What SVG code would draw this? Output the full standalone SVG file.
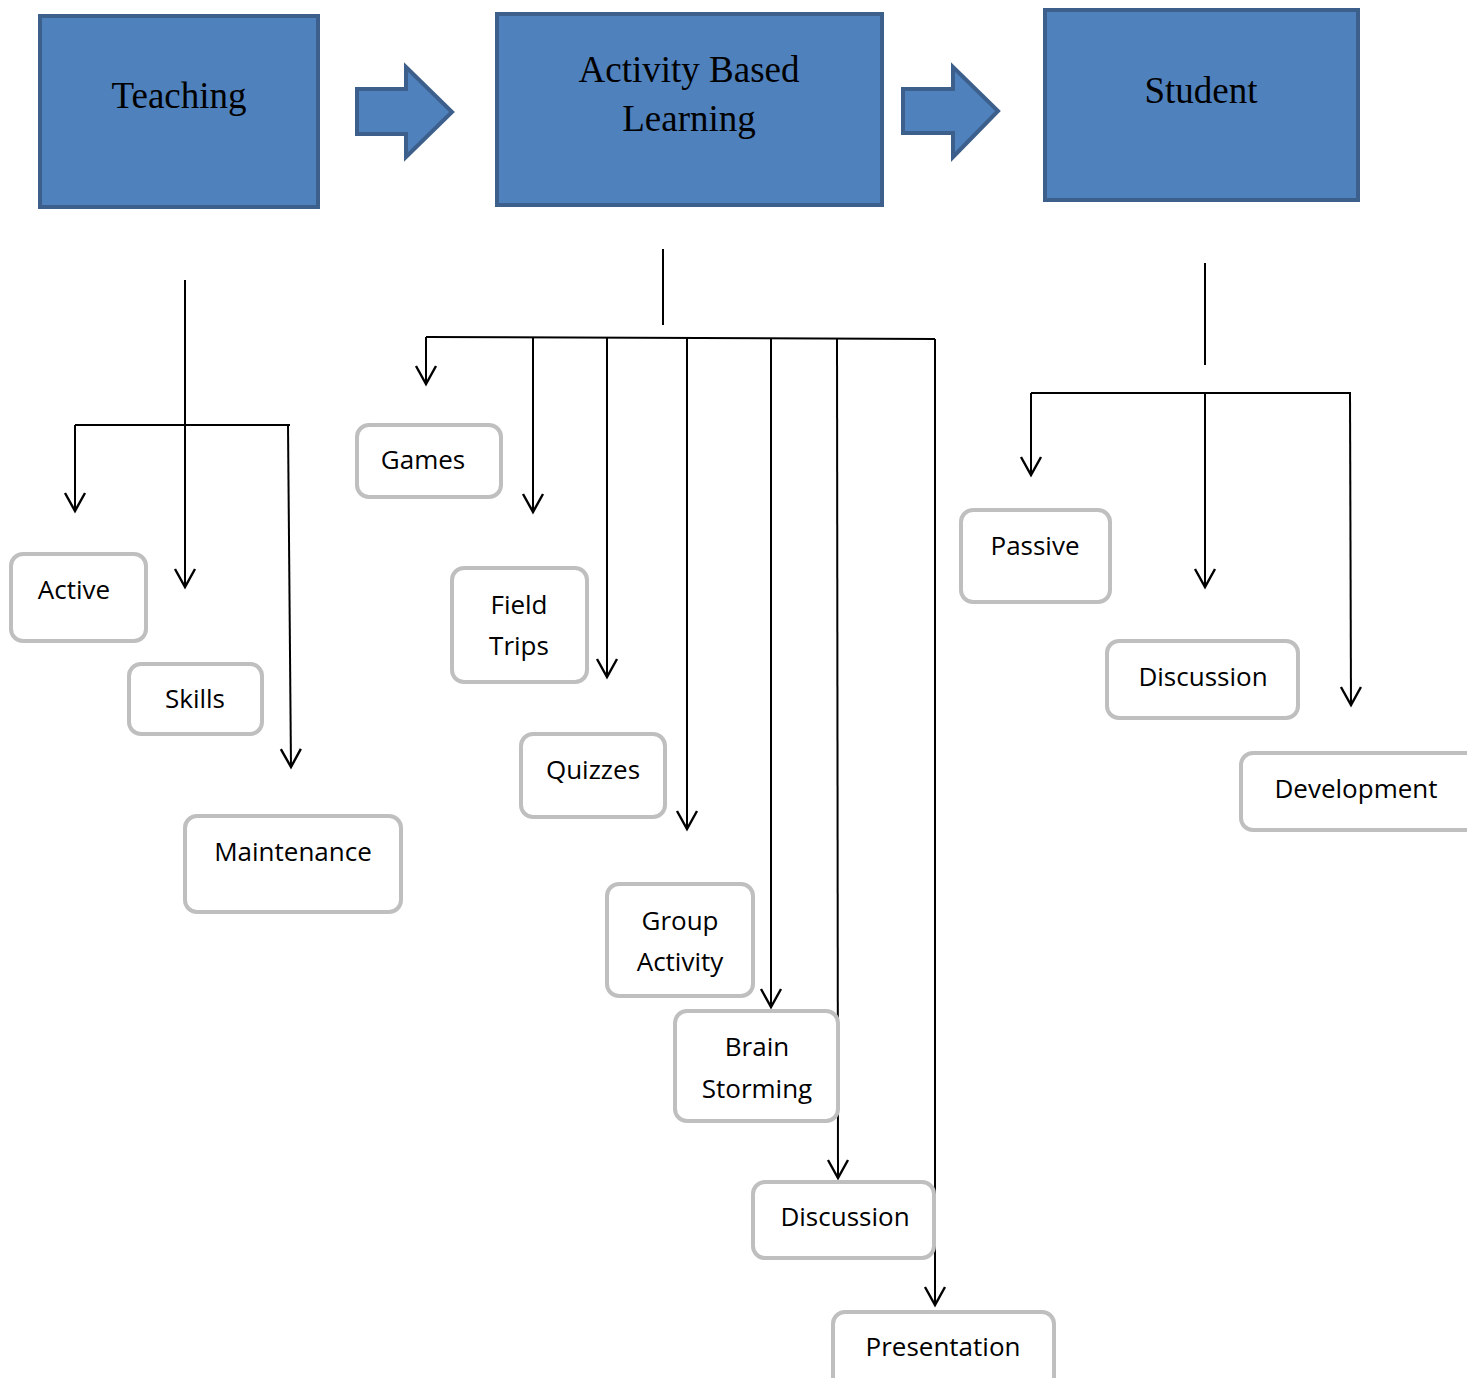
<svg xmlns="http://www.w3.org/2000/svg" width="1467" height="1378" viewBox="0 0 1467 1378">
<style>
.big{fill:#4f81bd;stroke:#3c5f8c;stroke-width:4}
.bt{font-family:"Liberation Serif","Times New Roman",serif;font-size:37px;fill:#000;text-anchor:middle}
.sm{fill:#fff;stroke:#bfbfbf;stroke-width:4}
.st{font-family:"Open Sans","Noto Sans",sans-serif;font-size:26px;fill:#000;text-anchor:middle}
.ln{fill:none;stroke:#000;stroke-width:2}
.ar{fill:none;stroke:#000;stroke-width:2;marker-end:url(#v)}
</style>
<defs>
<marker id="v" markerUnits="userSpaceOnUse" orient="auto" refX="0" refY="0" markerWidth="40" markerHeight="40" viewBox="-20 -20 40 40" overflow="visible">
<path d="M-18,-10 L0,0 L-18,10" fill="none" stroke="#000" stroke-width="2.4"/>
</marker>
</defs>
<g id="teaching"><rect class="big" x="40" y="16" width="278" height="191"/><text class="bt" x="179" y="108">Teaching</text></g>
<g id="abl"><rect class="big" x="497" y="14" width="385" height="191"/><text class="bt" x="689" y="82">Activity Based</text><text class="bt" x="689" y="131">Learning</text></g>
<g id="student"><rect class="big" x="1045" y="10" width="313" height="190"/><text class="bt" x="1201" y="103">Student</text></g>
<g id="blockarrow1"><path class="big" d="M357,89 L406,89 L406,67 L452,112 L406,157 L406,134 L357,134 Z"/></g>
<g id="blockarrow2"><path class="big" d="M903,89 L953,89 L953,67 L998,111 L953,157 L953,133 L903,133 Z"/></g>
<g id="connectors">
<line class="ar" x1="185" y1="280" x2="185" y2="587"/>
<line class="ln" x1="75" y1="425" x2="290" y2="425"/>
<line class="ar" x1="75" y1="425" x2="75" y2="511"/>
<line class="ar" x1="288" y1="425" x2="291" y2="767"/>
<line class="ln" x1="663" y1="249" x2="663" y2="325"/>
<line class="ln" x1="426" y1="337" x2="935" y2="339"/>
<line class="ar" x1="426" y1="337" x2="426" y2="384"/>
<line class="ar" x1="533" y1="338" x2="533" y2="512"/>
<line class="ar" x1="607" y1="338" x2="607" y2="677"/>
<line class="ar" x1="687" y1="338" x2="687" y2="829"/>
<line class="ar" x1="771" y1="339" x2="771" y2="1007"/>
<line class="ar" x1="837" y1="339" x2="838" y2="1178"/>
<line class="ar" x1="935" y1="339" x2="935" y2="1305"/>
<line class="ln" x1="1205" y1="263" x2="1205" y2="365"/>
<line class="ln" x1="1031" y1="393" x2="1351" y2="393"/>
<line class="ar" x1="1031" y1="393" x2="1031" y2="475"/>
<line class="ar" x1="1205" y1="393" x2="1205" y2="587"/>
<line class="ar" x1="1350" y1="393" x2="1351" y2="705"/>
</g>
<g id="active"><rect class="sm" x="11" y="554" width="135" height="87" rx="12"/><text class="st" x="74" y="599">Active</text></g>
<g id="skills"><rect class="sm" x="129" y="664" width="133" height="70" rx="12"/><text class="st" x="195" y="708">Skills</text></g>
<g id="maintenance"><rect class="sm" x="185" y="816" width="216" height="96" rx="12"/><text class="st" x="293" y="861">Maintenance</text></g>
<g id="games"><rect class="sm" x="357" y="425" width="144" height="72" rx="12"/><text class="st" x="423" y="469">Games</text></g>
<g id="fieldtrips"><rect class="sm" x="452" y="568" width="135" height="114" rx="12"/><text class="st" x="519" y="614">Field</text><text class="st" x="519" y="655">Trips</text></g>
<g id="quizzes"><rect class="sm" x="521" y="734" width="144" height="83" rx="12"/><text class="st" x="593" y="779">Quizzes</text></g>
<g id="groupactivity"><rect class="sm" x="607" y="884" width="146" height="112" rx="12"/><text class="st" x="680" y="930">Group</text><text class="st" x="680" y="971">Activity</text></g>
<g id="brainstorming"><rect class="sm" x="675" y="1011" width="163" height="110" rx="12"/><text class="st" x="757" y="1056">Brain</text><text class="st" x="757" y="1098">Storming</text></g>
<g id="discussion1"><rect class="sm" x="753" y="1182" width="181" height="76" rx="12"/><text class="st" x="845" y="1226">Discussion</text></g>
<g id="presentation"><rect class="sm" x="833" y="1312" width="221" height="80" rx="12"/><text class="st" x="943" y="1356">Presentation</text></g>
<g id="passive"><rect class="sm" x="961" y="510" width="149" height="92" rx="12"/><text class="st" x="1035" y="555">Passive</text></g>
<g id="discussion2"><rect class="sm" x="1107" y="641" width="191" height="77" rx="12"/><text class="st" x="1203" y="686">Discussion</text></g>
<g id="development"><rect class="sm" x="1241" y="753" width="240" height="77" rx="12"/><text class="st" x="1356" y="798">Development</text></g>
</svg>
